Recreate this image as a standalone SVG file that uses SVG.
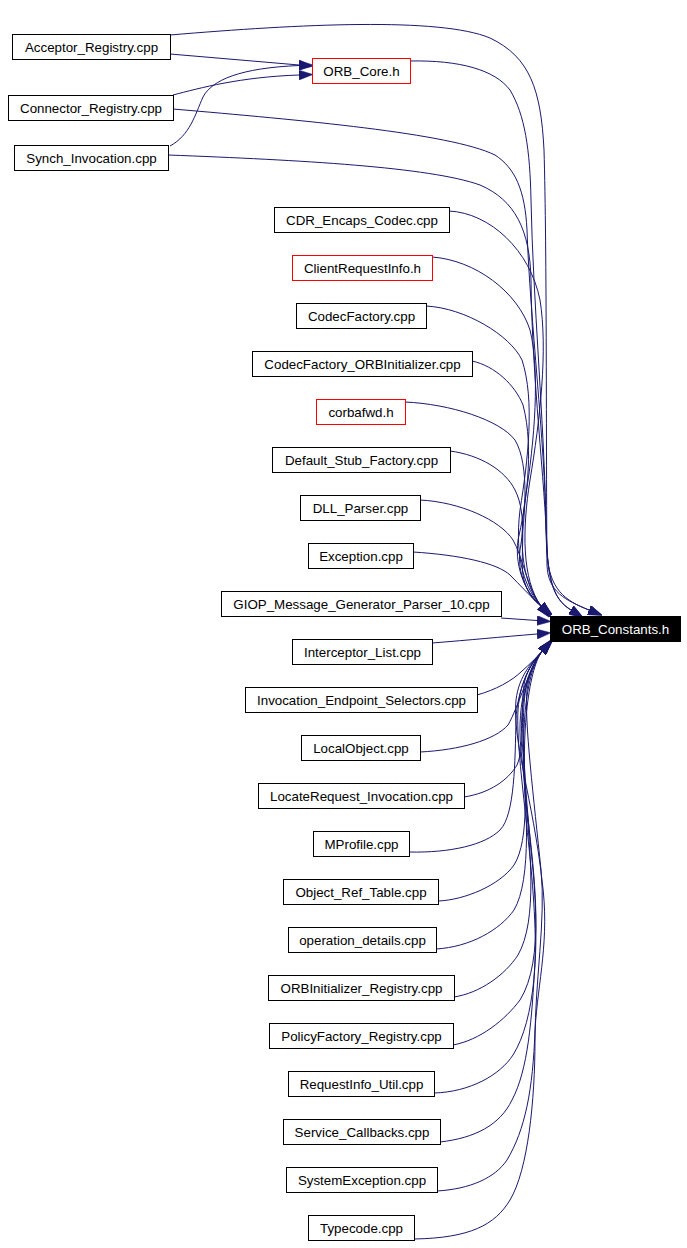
<svg xmlns="http://www.w3.org/2000/svg" width="687" height="1248" viewBox="0 0 687 1248">
<style>
.n rect{fill:#ffffff;stroke:#000000;stroke-width:1}
.n.red rect{stroke:#ff0000}
.n.root rect{fill:#000000;stroke:#000000}
.n text{font-family:"Liberation Sans",Arial,Helvetica,sans-serif;font-size:13.33px;text-anchor:middle;fill:#000000}
.n.root text{fill:#ffffff}
.e path{fill:none;stroke:#191970;stroke-width:1;marker-end:url(#arr)}
</style>
<defs>
<marker id="arr" markerUnits="userSpaceOnUse" markerWidth="14" markerHeight="10" viewBox="0 0 13.3 9.3" refX="0" refY="4.65" orient="auto">
<path d="M0,0 L13.3,4.65 L0,9.3 z" fill="#191970" stroke="#191970" stroke-width="0.5"/>
</marker>
</defs>
<rect width="687" height="1248" fill="#ffffff"/>
<g id="edges" class="e">
<path d="M170,54 L299,65"/>
<path d="M173,95 C200,88 240,77 299,75"/>
<path d="M170,146 C190,135 195,115 203,97 C212,80 240,68 299,65.5"/>
<path d="M170,35 C300,24 440,17 490,38 C530,57 541,90 544,150 C547,250 546,450 547,565 C548,592 565,600 589,610"/>
<path d="M410,61 C460,60 495,70 510,90 C525,115 530,150 531,200 C533,300 544,420 546,520 C547,580 552,598 571,610"/>
<path d="M173,109 C300,120 450,133 495,155 C515,168 525,190 527,230 C530,320 545,440 546,530 C547,585 556,601 571,610"/>
<path d="M168,155 C300,160 430,167 480,185 C515,200 530,230 531,280 C532,380 545,480 547,550 C548,590 566,601 589,610"/>
<path d="M449,211 C490,213 530,250 540,300 C548,350 540,420 530,480 C522,530 522,580 541,606"/>
<path d="M432,257 C475,260 518,292 530,330 C540,370 535,440 525,500 C518,550 524,585 541,606"/>
<path d="M426,306 C465,308 510,335 522,360 C535,400 528,460 520,510 C514,560 526,590 541,606"/>
<path d="M472,361 C495,366 515,385 523,405 C535,450 525,510 518,540 C514,570 528,595 541,606"/>
<path d="M405,402 C450,404 500,420 515,440 C530,465 525,520 520,550 C517,575 528,595 541,606"/>
<path d="M450,451 C480,455 505,470 515,490 C528,515 520,555 523,575 C526,592 533,600 541,606"/>
<path d="M420,500 C460,502 500,520 513,540 C522,555 528,590 541,606"/>
<path d="M413,552 C460,555 497,563 510,575 C520,585 530,596 541,606"/>
<path d="M501,618 L537,620.5"/>
<path d="M432,643 C470,640 500,637 537,634"/>
<path d="M477,695 C495,690 512,681 522,671 C530,664 536,658 542,651.5"/>
<path d="M420,752 C460,750 495,740 508,725 C518,708 530,666 542,651.5"/>
<path d="M464,797 C490,793 508,780 517,765 C526,745 520,700 525,680 C528,668 535,659 542,651.5"/>
<path d="M409,852 C450,853 485,845 500,830 C515,815 515,760 516,720 C517,690 530,663 542,651.5"/>
<path d="M438,901 C465,900 500,885 514,865 C530,840 525,780 522,740 C519,700 530,665 542,651.5"/>
<path d="M436,949 C470,947 500,930 514,910 C532,880 527,800 521,750 C516,700 530,665 542,651.5"/>
<path d="M454,997 C480,993 505,975 518,955 C538,920 530,850 525,790 C520,720 528,668 542,651.5"/>
<path d="M453,1045 C480,1040 505,1020 520,1000 C545,960 535,880 527,810 C520,740 528,670 542,651.5"/>
<path d="M434,1093 C470,1092 500,1075 513,1055 C535,1020 540,950 533,870 C526,800 518,710 528,680 C532,668 537,658 542,651.5"/>
<path d="M440,1142 C475,1138 500,1125 512,1100 C528,1070 532,1020 535,960 C538,880 515,760 518,710 C520,680 532,662 542,651.5"/>
<path d="M437,1191 C470,1189 495,1178 507,1160 C525,1130 533,1090 535,1030 C538,980 550,940 542,880 C533,800 512,740 516,700 C519,675 533,661 542,651.5"/>
<path d="M414,1239 C470,1238 495,1225 510,1200 C528,1170 535,1100 535,1040 C535,980 546,920 541,870 C534,800 524,720 527,690 C530,670 536,659 542,651.5"/>
</g>
<g id="n_orb_constants" class="n root"><rect x="550.5" y="616.5" width="130" height="25"/><text x="615.5" y="633.8">ORB_Constants.h</text></g>
<g id="n_acceptor" class="n"><rect x="12.5" y="34.5" width="158" height="25"/><text x="91.5" y="51.8">Acceptor_Registry.cpp</text></g>
<g id="n_orb_core" class="n red"><rect x="312.5" y="58.5" width="98" height="25"/><text x="361.5" y="75.8">ORB_Core.h</text></g>
<g id="n_connector" class="n"><rect x="8.5" y="95.5" width="165" height="25"/><text x="91" y="112.8">Connector_Registry.cpp</text></g>
<g id="n_synch" class="n"><rect x="14.5" y="145.5" width="154" height="25"/><text x="91.5" y="162.8">Synch_Invocation.cpp</text></g>
<g id="n_cdr" class="n"><rect x="274.5" y="207.5" width="175" height="25"/><text x="362" y="224.8">CDR_Encaps_Codec.cpp</text></g>
<g id="n_cri" class="n red"><rect x="292.5" y="255.5" width="140" height="25"/><text x="362.5" y="272.8">ClientRequestInfo.h</text></g>
<g id="n_codecfactory" class="n"><rect x="296.5" y="303.5" width="130" height="25"/><text x="361.5" y="320.8">CodecFactory.cpp</text></g>
<g id="n_codecfactory_orbinit" class="n"><rect x="252.5" y="351.5" width="220" height="25"/><text x="362.5" y="368.8">CodecFactory_ORBInitializer.cpp</text></g>
<g id="n_corbafwd" class="n red"><rect x="316.5" y="399.5" width="89" height="25"/><text x="361" y="416.8">corbafwd.h</text></g>
<g id="n_default_stub" class="n"><rect x="272.5" y="447.5" width="178" height="25"/><text x="361.5" y="464.8">Default_Stub_Factory.cpp</text></g>
<g id="n_dll_parser" class="n"><rect x="300.5" y="495.5" width="120" height="25"/><text x="360.5" y="512.8">DLL_Parser.cpp</text></g>
<g id="n_exception" class="n"><rect x="308.5" y="543.5" width="105" height="25"/><text x="361" y="560.8">Exception.cpp</text></g>
<g id="n_giop" class="n"><rect x="221.5" y="591.5" width="280" height="25"/><text x="361.5" y="608.8">GIOP_Message_Generator_Parser_10.cpp</text></g>
<g id="n_interceptor" class="n"><rect x="292.5" y="639.5" width="140" height="25"/><text x="362.5" y="656.8">Interceptor_List.cpp</text></g>
<g id="n_invocation" class="n"><rect x="245.5" y="687.5" width="232" height="25"/><text x="361.5" y="704.8">Invocation_Endpoint_Selectors.cpp</text></g>
<g id="n_localobject" class="n"><rect x="301.5" y="735.5" width="119" height="25"/><text x="361" y="752.8">LocalObject.cpp</text></g>
<g id="n_locaterequest" class="n"><rect x="258.5" y="783.5" width="206" height="25"/><text x="361.5" y="800.8">LocateRequest_Invocation.cpp</text></g>
<g id="n_mprofile" class="n"><rect x="313.5" y="831.5" width="96" height="25"/><text x="361.5" y="848.8">MProfile.cpp</text></g>
<g id="n_object_ref" class="n"><rect x="283.5" y="879.5" width="155" height="25"/><text x="361" y="896.8">Object_Ref_Table.cpp</text></g>
<g id="n_operation_details" class="n"><rect x="288.5" y="927.5" width="148" height="25"/><text x="362.5" y="944.8">operation_details.cpp</text></g>
<g id="n_orbinit_registry" class="n"><rect x="268.5" y="975.5" width="186" height="25"/><text x="361.5" y="992.8">ORBInitializer_Registry.cpp</text></g>
<g id="n_policyfactory" class="n"><rect x="269.5" y="1023.5" width="184" height="25"/><text x="361.5" y="1040.8">PolicyFactory_Registry.cpp</text></g>
<g id="n_requestinfo_util" class="n"><rect x="288.5" y="1071.5" width="146" height="25"/><text x="361.5" y="1088.8">RequestInfo_Util.cpp</text></g>
<g id="n_service_callbacks" class="n"><rect x="283.5" y="1119.5" width="157" height="25"/><text x="362" y="1136.8">Service_Callbacks.cpp</text></g>
<g id="n_systemexception" class="n"><rect x="286.5" y="1167.5" width="151" height="25"/><text x="362" y="1184.8">SystemException.cpp</text></g>
<g id="n_typecode" class="n"><rect x="308.5" y="1215.5" width="106" height="25"/><text x="361.5" y="1232.8">Typecode.cpp</text></g>
</svg>
